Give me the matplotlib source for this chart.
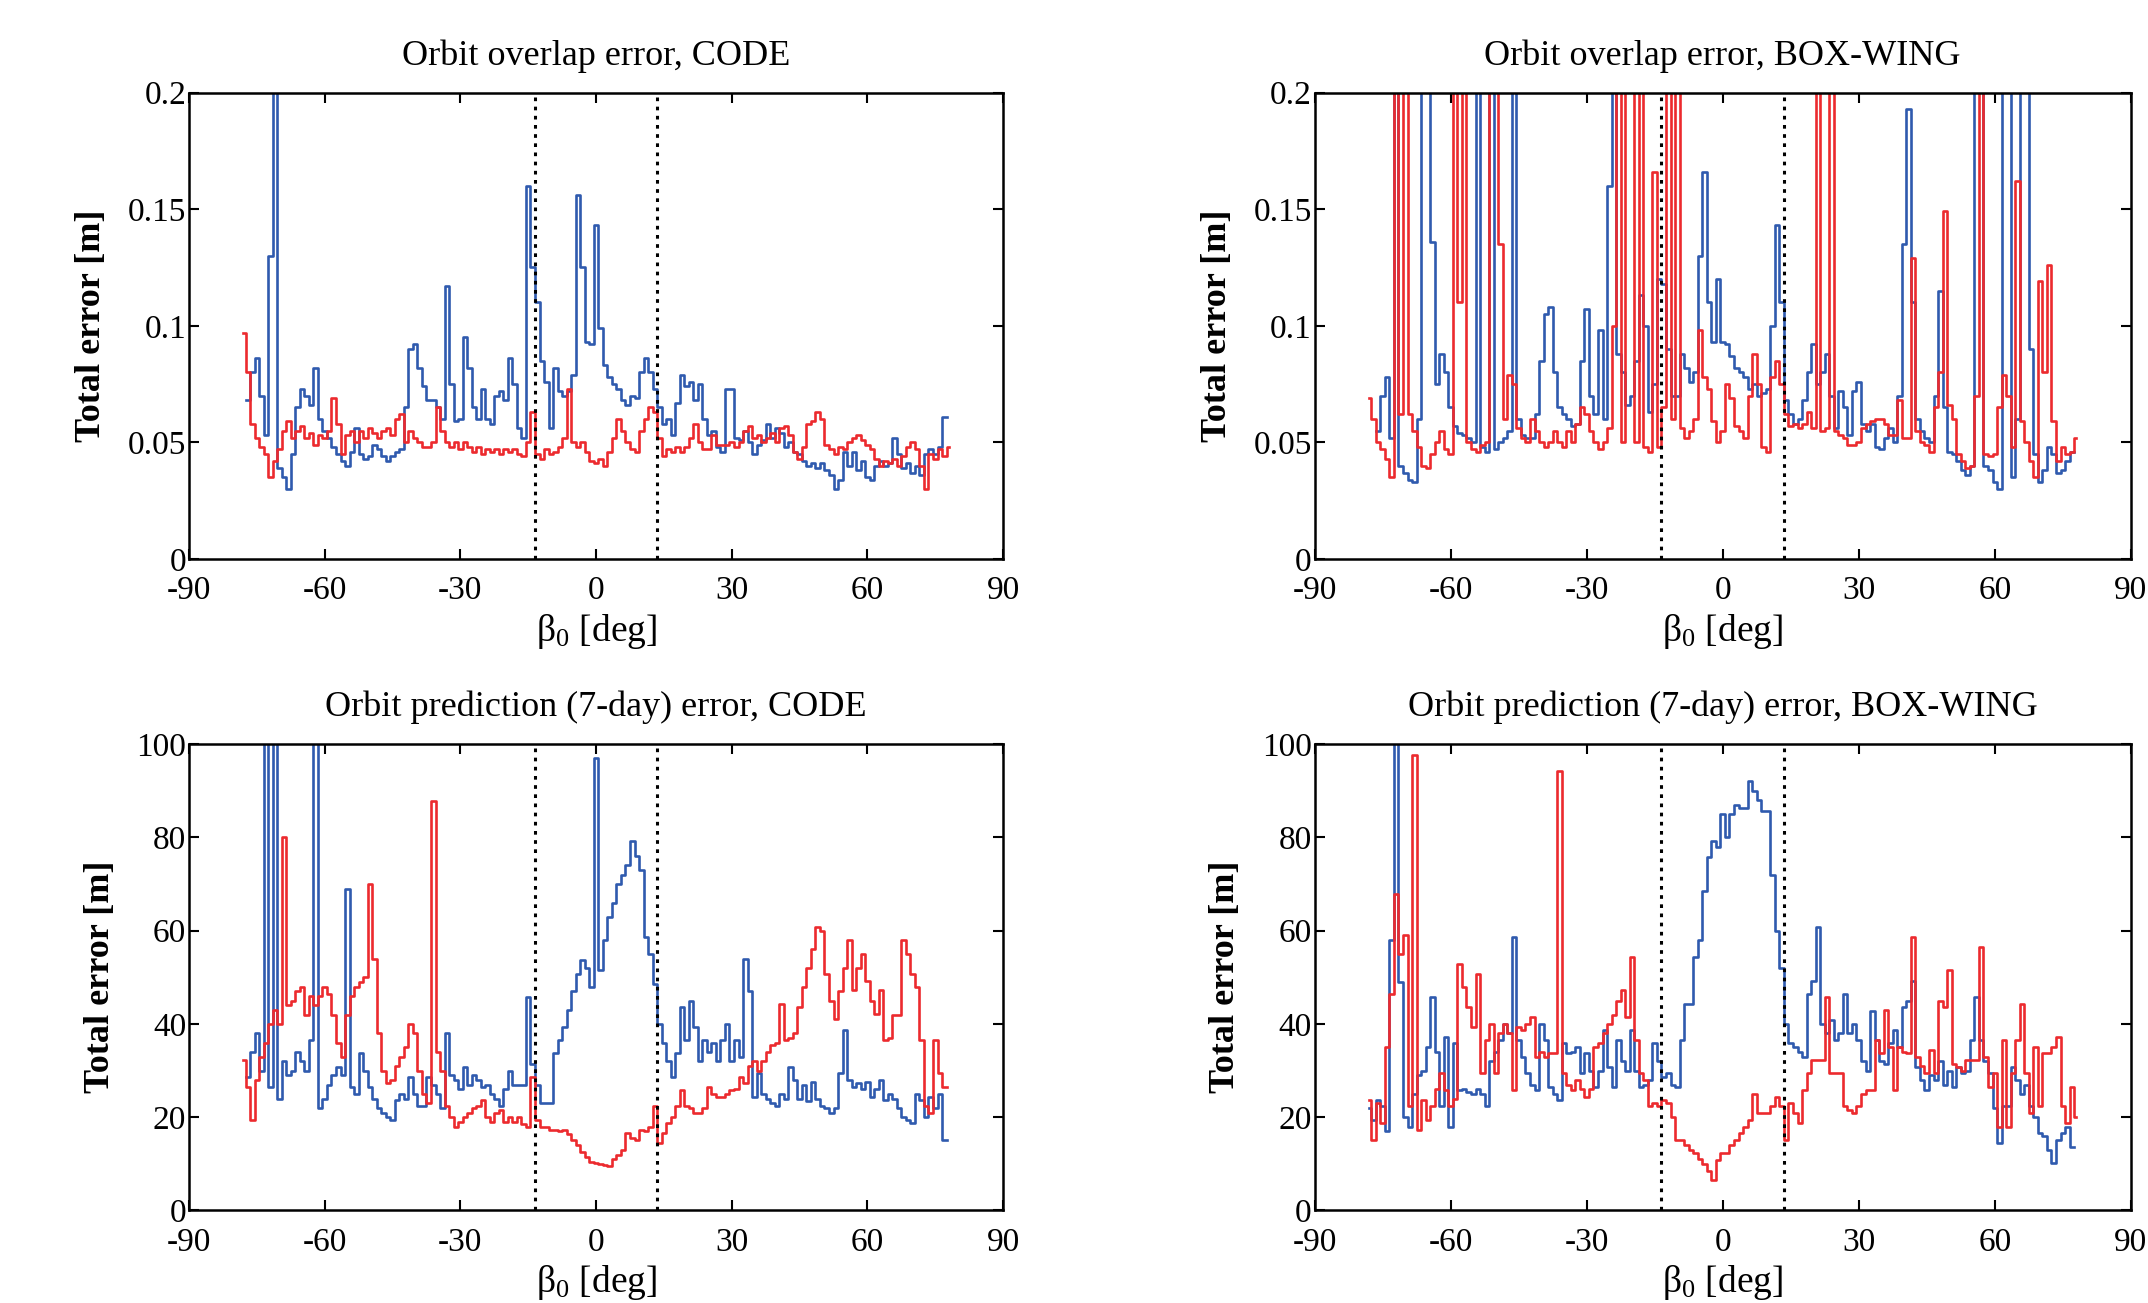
import numpy as np
import matplotlib
matplotlib.use("Agg")
import matplotlib.pyplot as plt

nan = np.nan

# ---------------- data (beta0 grid, 1 deg) ----------------
beta0 = np.arange(-78, 79, 1.0)
eclipse_limits = [-13.5, 13.5]

titles = ["Orbit overlap error, CODE", "Orbit overlap error, BOX-WING",
          "Orbit prediction (7-day) error, CODE", "Orbit prediction (7-day) error, BOX-WING"]

xticks = [-90, -60, -30, 0, 30, 60, 90]
yticks_overlap = [0, 0.05, 0.1, 0.15, 0.2]
yticklabels_overlap = ["0", "0.05", "0.1", "0.15", "0.2"]
yticks_pred = [0, 20, 40, 60, 80, 100]

overlap_code_blue = [
    nan, 0.068, 0.080, 0.086, 0.070, 0.053, 0.130, 0.220, 0.039, 0.035,
    0.030, 0.045, 0.065, 0.073, 0.070, 0.066, 0.082, 0.060, 0.055, 0.052,
    0.048, 0.045, 0.042, 0.040, 0.046, 0.056, 0.045, 0.043, 0.044, 0.049,
    0.047, 0.044, 0.042, 0.044, 0.046, 0.047, 0.065, 0.090, 0.092, 0.082,
    0.074, 0.068, 0.068, 0.065, 0.060, 0.117, 0.075, 0.059, 0.060, 0.095,
    0.082, 0.065, 0.060, 0.073, 0.060, 0.058, 0.070, 0.072, 0.068, 0.086,
    0.075, 0.056, 0.052, 0.160, 0.125, 0.110, 0.085, 0.076, 0.056, 0.082,
    0.072, 0.070, 0.072, 0.079, 0.156, 0.125, 0.093, 0.092, 0.143, 0.099,
    0.083, 0.078, 0.075, 0.073, 0.068, 0.066, 0.070, 0.069, 0.080, 0.086,
    0.080, 0.073, 0.065, 0.058, 0.060, 0.053, 0.067, 0.079, 0.074, 0.076,
    0.068, 0.075, 0.060, 0.053, 0.055, 0.048, 0.046, 0.073, 0.073, 0.052,
    0.051, 0.055, 0.050, 0.045, 0.049, 0.051, 0.058, 0.052, 0.056, 0.054,
    0.048, 0.050, 0.046, 0.045, 0.042, 0.040, 0.041, 0.039, 0.041, 0.038,
    0.036, 0.030, 0.034, 0.046, 0.040, 0.046, 0.038, 0.042, 0.035, 0.034,
    0.040, 0.042, 0.040, 0.041, 0.052, 0.045, 0.039, 0.041, 0.037, 0.040,
    0.036, 0.045, 0.047, 0.045, 0.048, 0.061, nan]

overlap_code_red = [
    0.097, 0.080, 0.058, 0.052, 0.048, 0.045, 0.035, 0.042, 0.047, 0.055,
    0.059, 0.052, 0.055, 0.057, 0.052, 0.054, 0.049, 0.053, 0.052, 0.055,
    0.069, 0.058, 0.045, 0.053, 0.055, 0.050, 0.055, 0.052, 0.056, 0.054,
    0.052, 0.055, 0.056, 0.053, 0.060, 0.062, 0.050, 0.055, 0.052, 0.050,
    0.048, 0.048, 0.050, 0.065, 0.055, 0.050, 0.048, 0.050, 0.047, 0.050,
    0.048, 0.046, 0.048, 0.045, 0.047, 0.046, 0.047, 0.045, 0.047, 0.046,
    0.047, 0.045, 0.044, 0.050, 0.063, 0.045, 0.043, 0.047, 0.045, 0.046,
    0.048, 0.052, 0.073, 0.050, 0.048, 0.050, 0.046, 0.042, 0.041, 0.043,
    0.040, 0.046, 0.052, 0.060, 0.055, 0.050, 0.047, 0.046, 0.055, 0.060,
    0.065, 0.063, 0.052, 0.044, 0.047, 0.046, 0.048, 0.046, 0.048, 0.052,
    0.058, 0.050, 0.047, 0.047, 0.053, 0.049, 0.049, 0.049, 0.050, 0.048,
    0.050, 0.055, 0.057, 0.052, 0.053, 0.050, 0.052, 0.054, 0.050, 0.056,
    0.057, 0.053, 0.046, 0.043, 0.048, 0.058, 0.059, 0.063, 0.060, 0.049,
    0.047, 0.045, 0.048, 0.047, 0.050, 0.052, 0.053, 0.051, 0.049, 0.047,
    0.043, 0.040, 0.042, 0.041, 0.043, 0.040, 0.044, 0.048, 0.050, 0.047,
    0.040, 0.030, 0.045, 0.043, 0.047, 0.044, 0.048]

overlap_boxwing_blue = [
    nan, nan, 0.055, 0.070, 0.078, 0.052, 0.250, 0.040, 0.037, 0.034,
    0.033, 0.060, 0.250, 0.250, 0.136, 0.075, 0.088, 0.080, 0.065, 0.057,
    0.054, 0.053, 0.052, 0.050, 0.250, 0.048, 0.046, 0.250, 0.047, 0.050,
    0.052, 0.055, 0.250, 0.060, 0.053, 0.052, 0.052, 0.062, 0.085, 0.105,
    0.108, 0.080, 0.065, 0.062, 0.060, 0.057, 0.058, 0.085, 0.107, 0.070,
    0.062, 0.098, 0.060, 0.160, 0.250, 0.088, 0.080, 0.066, 0.070, 0.085,
    0.113, 0.100, 0.063, 0.075, 0.120, 0.118, 0.090, 0.070, 0.070, 0.088,
    0.082, 0.076, 0.080, 0.130, 0.166, 0.110, 0.093, 0.120, 0.093, 0.092,
    0.087, 0.082, 0.080, 0.078, 0.073, 0.075, 0.070, 0.071, 0.073, 0.100,
    0.143, 0.110, 0.068, 0.062, 0.058, 0.060, 0.068, 0.080, 0.092, 0.075,
    0.080, 0.088, 0.070, 0.056, 0.072, 0.065, 0.053, 0.072, 0.076, 0.058,
    0.055, 0.058, 0.048, 0.047, 0.052, 0.056, 0.050, 0.070, 0.135, 0.193,
    0.110, 0.060, 0.055, 0.052, 0.050, 0.070, 0.115, 0.065, 0.046, 0.045,
    0.042, 0.038, 0.036, 0.040, 0.250, 0.250, 0.040, 0.038, 0.033, 0.030,
    0.250, 0.250, 0.035, 0.060, 0.250, 0.250, 0.090, 0.045, 0.033, 0.038,
    0.048, 0.045, 0.037, 0.038, 0.042, 0.046, nan]

overlap_boxwing_red = [
    0.069, 0.060, 0.050, 0.047, 0.043, 0.035, 0.250, 0.062, 0.250, 0.062,
    0.055, 0.048, 0.040, 0.039, 0.045, 0.050, 0.055, 0.047, 0.045, 0.250,
    0.110, 0.250, 0.050, 0.047, 0.046, 0.049, 0.050, 0.250, 0.250, 0.135,
    0.060, 0.079, 0.075, 0.056, 0.052, 0.050, 0.060, 0.055, 0.050, 0.048,
    0.050, 0.055, 0.050, 0.048, 0.055, 0.050, 0.058, 0.065, 0.062, 0.055,
    0.050, 0.047, 0.050, 0.056, 0.100, 0.250, 0.050, 0.250, 0.250, 0.050,
    0.250, 0.048, 0.046, 0.166, 0.048, 0.065, 0.250, 0.060, 0.250, 0.056,
    0.052, 0.055, 0.060, 0.098, 0.078, 0.073, 0.059, 0.050, 0.055, 0.075,
    0.069, 0.057, 0.055, 0.052, 0.070, 0.088, 0.075, 0.048, 0.046, 0.078,
    0.085, 0.075, 0.062, 0.057, 0.058, 0.056, 0.058, 0.063, 0.056, 0.250,
    0.055, 0.056, 0.250, 0.055, 0.053, 0.052, 0.049, 0.049, 0.050, 0.056,
    0.058, 0.059, 0.060, 0.060, 0.058, 0.053, 0.053, 0.068, 0.052, 0.052,
    0.129, 0.055, 0.050, 0.049, 0.046, 0.065, 0.080, 0.149, 0.066, 0.060,
    0.045, 0.042, 0.039, 0.040, 0.070, 0.250, 0.045, 0.044, 0.045, 0.065,
    0.079, 0.070, 0.048, 0.162, 0.059, 0.050, 0.042, 0.035, 0.119, 0.080,
    0.126, 0.059, 0.042, 0.048, 0.045, 0.046, 0.052]

prediction_code_blue = [
    nan, 28.7, 34, 38, 30, 105, 26.5, 105, 24, 32,
    29, 30, 34, 32, 30, 36.5, 105, 22, 24, 27,
    29, 30.8, 29, 69, 26.5, 25, 33.7, 30, 26.5, 24,
    22, 21, 20, 19.4, 23.7, 25, 24, 28.7, 25, 22.3,
    22.5, 28.7, 27, 25, 22, 38, 29, 28, 26, 30.8,
    27, 29, 28, 26.5, 27, 25, 24, 22.3, 26, 30,
    27, 27, 27, 45.8, 31.5, 27, 23, 23, 23, 33.7,
    36.5, 39.4, 43, 47, 50.7, 53.6, 52, 48, 97, 51.5,
    58, 63, 66, 70, 72, 74, 79.2, 76, 73, 58.6,
    55, 48.6, 40, 36, 32, 28.7, 33.7, 43.6, 36.5, 45,
    39.4, 32, 36.5, 34, 36, 32, 36.5, 40, 32, 36.5,
    33, 54, 47, 24.4, 29.4, 25, 24, 23, 22.3, 25,
    24, 30.8, 28, 24, 27, 23.5, 27.5, 24, 22.3, 22,
    20.8, 22, 29.4, 38.6, 28, 26.5, 27.3, 26, 27.5, 24.4,
    26, 28, 23.7, 25, 24, 22, 20, 19.4, 18.7, 25,
    23.7, 20, 24.4, 22, 25, 15.2, nan]

prediction_code_red = [
    32.2, 26.5, 19.4, 28, 33, 36, 40, 43, 40, 80,
    44, 45, 47, 48, 42, 46, 44, 46, 48, 46.5,
    42, 36, 33, 42, 46, 48, 49, 50, 70, 54,
    38, 30, 27.3, 28, 31, 33, 35, 40, 38, 30,
    25, 23, 87.8, 34, 30, 22.3, 20, 18, 19, 20,
    21, 22, 22.3, 23.7, 20, 19, 21, 21.5, 19, 20,
    19, 20, 18.5, 18, 28.7, 19.4, 18, 18, 17.3, 17.3,
    17, 17.3, 16.5, 15.2, 14, 12.5, 11.5, 10.5, 10.2, 10,
    9.8, 9.5, 11, 12, 13, 16.6, 15.5, 15.2, 17.3, 17,
    18, 22.3, 14.4, 16.6, 18.7, 20, 22.3, 25.8, 22.3, 22,
    21, 20.8, 22, 26.5, 25, 24.4, 24.4, 25, 25.8, 26,
    28.7, 27.3, 31, 32, 30, 32, 34, 35.5, 35.8, 44.3,
    36.5, 37, 38, 43.6, 48, 52, 56, 60.7, 60, 50.7,
    45, 41, 47, 52, 58, 47.2, 52, 55, 49.3, 45,
    42.2, 47.2, 36.5, 37, 42, 42, 58, 55, 50.7, 48,
    36.5, 22.3, 20.8, 36.5, 29.4, 26.5, nan]

prediction_boxwing_blue = [
    22, 19.4, 23.7, 22.3, 17, 58, 105, 49, 20, 18,
    25, 29, 30, 35, 45.8, 34, 22.3, 37.2, 18, 35.8,
    25.8, 26, 25.5, 25, 26, 25, 22.3, 32, 34, 36.5,
    40, 38, 58.6, 36.5, 33, 29.4, 27, 25.8, 40, 36.5,
    26.5, 25, 23.7, 35.8, 33.7, 34, 35, 29.4, 33.7, 30,
    26.5, 30, 38.6, 30.8, 26.5, 36.5, 32, 30, 38.6, 30,
    26.5, 27, 28, 35.8, 32, 28.7, 29.4, 27, 26.5, 36.5,
    44.3, 44.3, 54.3, 57.9, 68.5, 75.7, 79.2, 78, 85, 80,
    85, 87, 86.3, 86.3, 92, 90, 88, 85.6, 85.6, 72,
    60, 52, 40, 35.8, 35, 34, 33, 46.5, 49.3, 60.7,
    40, 38, 40.8, 36.5, 38, 46.5, 38, 40, 36.5, 32,
    30, 42.8, 36.5, 32, 31.5, 36, 38.6, 35, 43.6, 45,
    49.3, 30.8, 28, 25.8, 29, 28, 32, 27, 30, 26.5,
    30.8, 29.4, 30, 36.5, 45.8, 36.5, 32, 29.4, 22, 14.4,
    22.3, 22.3, 30.8, 28, 25, 27, 22.3, 20, 16.6, 16,
    13, 10.2, 15.2, 16.6, 18, 13.7, nan]

prediction_boxwing_red = [
    23.7, 15.2, 23, 18.7, 35, 46.5, 67.8, 55, 59, 22.3,
    97.7, 17.3, 23.7, 19.4, 22.3, 26, 29.4, 25.8, 22.3, 24,
    52.9, 48, 43.6, 39.4, 50.7, 29.4, 36.5, 40, 29.4, 38,
    40, 38, 25.8, 39.4, 38.6, 40, 41.5, 33, 34, 33,
    33.7, 33.7, 94.2, 29.4, 27, 25.8, 28, 26, 24.4, 26,
    35, 36, 38, 40, 42, 45, 47.2, 41.5, 54.3, 36.5,
    29.4, 28, 22.3, 23, 22.3, 23.7, 23, 20, 15.2, 15.2,
    14, 13, 12.3, 11, 10, 8.5, 6.6, 10.9, 12.3, 12.3,
    14, 15.2, 16.6, 18, 19.4, 25, 20.8, 21, 20.8, 22.3,
    24.4, 22.3, 15.2, 23, 21, 18.7, 25.8, 29.4, 32.2, 32.2,
    32.2, 45.8, 29.4, 29.4, 29.4, 22.3, 21.5, 20.8, 22.3, 25,
    25.8, 25.8, 36.5, 33.7, 43, 35, 25.8, 35, 34, 33.7,
    58.6, 33, 31, 29.4, 34.4, 29.4, 45, 43.6, 51.5, 31.5,
    30.8, 30, 32.2, 32.2, 32.2, 56.4, 33, 26.5, 29.4, 18,
    36.5, 18, 29.4, 36.5, 44.3, 29.4, 20.8, 35, 22.3, 33.7,
    33.7, 35, 37.2, 22.3, 18.7, 26.5, 20]

# ---------------- style ----------------
plt.rcParams['font.family'] = ['Liberation Serif', 'DejaVu Serif']
plt.rcParams['mathtext.fontset'] = 'custom'
plt.rcParams['mathtext.rm'] = 'Liberation Serif'
plt.rcParams['mathtext.it'] = 'Liberation Serif:italic'

BLUE = '#2f5aae'
RED = '#ec2a2e'
FS_TICK = 24
FS_TITLE = 26
FS_XLAB = 27
FS_YLAB = 26

fig = plt.figure(figsize=(21.48, 13.03), dpi=100)
rects = [[0.088, 0.571, 0.379, 0.358], [0.612, 0.571, 0.380, 0.358],
         [0.088, 0.071, 0.379, 0.358], [0.612, 0.071, 0.380, 0.358]]
series = [(overlap_code_blue, overlap_code_red),
          (overlap_boxwing_blue, overlap_boxwing_red),
          (prediction_code_blue, prediction_code_red),
          (prediction_boxwing_blue, prediction_boxwing_red)]

for i, (rect, (yb, yr), title) in enumerate(zip(rects, series, titles)):
    ax = fig.add_axes(rect)
    ax.plot(beta0, np.array(yb, dtype=float), color=BLUE, lw=1.9, drawstyle='steps-mid', zorder=2)
    ax.plot(beta0, np.array(yr, dtype=float), color=RED, lw=1.9, drawstyle='steps-mid', zorder=2)
    for xv in eclipse_limits:
        ax.axvline(xv, color='black', ls=(0, (1.2, 1.8)), lw=2.2, zorder=3)
    ax.set_xlim(-90, 90)
    ax.set_xticks(xticks)
    ax.set_xticklabels([str(t) for t in xticks])
    if i < 2:
        ax.set_ylim(0, 0.2)
        ax.set_yticks(yticks_overlap)
        ax.set_yticklabels(yticklabels_overlap)
    else:
        ax.set_ylim(0, 100)
        ax.set_yticks(yticks_pred)
        ax.set_yticklabels([str(t) for t in yticks_pred])
    ax.tick_params(direction='in', top=True, right=True, length=7, width=1.5,
                   labelsize=FS_TICK)
    ax.tick_params(axis='x', pad=12)
    ax.tick_params(axis='y', pad=2)
    for sp in ax.spines.values():
        sp.set_linewidth(1.8)
    ax.set_title(title, fontsize=FS_TITLE, pad=20)
    ax.set_xlabel(r'$\mathrm{\beta_0}$ [deg]', fontsize=FS_XLAB, labelpad=4)
    ax.set_ylabel('Total error [m]', fontsize=FS_YLAB, fontweight='bold', labelpad=14)

fig.savefig('out.png', dpi=100, facecolor='white')
